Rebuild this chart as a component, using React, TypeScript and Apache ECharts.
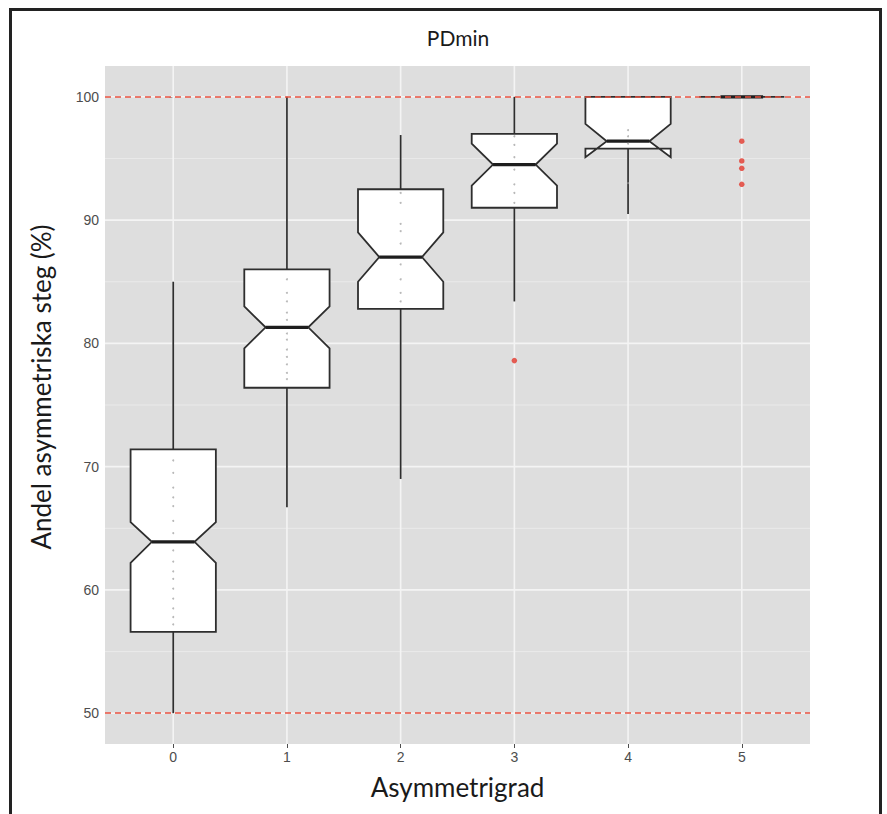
import React, { useEffect, useRef } from "react";
import * as echarts from "echarts";

// ---- data ----
const categories = ["0", "1", "2", "3", "4", "5"];
const whiskerLow = [50.0, 66.7, 69.0, 83.4, 90.5, 100];
const q1 = [56.6, 76.4, 82.8, 91.0, 95.8, 100];
const notchLow = [62.2, 79.6, 85.0, 92.8, 95.1, 100];
const median = [63.9, 81.3, 87.0, 94.5, 96.4, 100];
const notchHigh = [65.5, 83.0, 89.0, 96.2, 97.8, 100];
const q3 = [71.4, 86.0, 92.5, 97.0, 100, 100];
const whiskerHigh = [85.0, 100, 96.9, 100, 100, 100];

const outliers: [number, number][] = [
  [3, 78.6],
  [5, 96.4],
  [5, 94.8],
  [5, 94.2],
  [5, 92.9],
];

const jitter0 = [70.5, 69.5, 68.3, 67.5, 66.8, 65.6, 64.6, 63.2, 62.3, 61.5, 60.9, 60.1, 59.3, 58.5, 57.8, 57.2];
const jitter1 = [85.2, 84.1, 83.4, 82.5, 81.9, 80.8, 80.3, 79.5, 78.9, 78.3, 77.6, 77.1];
const jitter2 = [92.2, 91.4, 89.7, 89.1, 88.1, 86.4, 85.2, 84.1, 83.4];
const jitter3 = [96.8, 96.1, 95.1, 94.1, 92.9, 92.2, 91.4];
const jitter4 = [97.3, 96.8, 96.2, 93.0];
const jitterSets = [jitter0, jitter1, jitter2, jitter3, jitter4];

const yTicks = [50, 60, 70, 80, 90, 100];
const yMinorTicks = [55, 65, 75, 85, 95];
const refLines = [50, 100];

const X_MIN = -0.6;
const X_MAX = 5.6;
const Y_MIN = 47.5;
const Y_MAX = 102.5;

export default function App() {
  const ref = useRef<HTMLDivElement>(null);

  useEffect(() => {
    if (!ref.current) return;
    const chart = echarts.init(ref.current, null, { renderer: "svg" });

    const boxData = categories.map((_, i) => [
      i,
      whiskerLow[i],
      q1[i],
      notchLow[i],
      median[i],
      notchHigh[i],
      q3[i],
      whiskerHigh[i],
    ]);

    const gridData: any[] = [
      ...yTicks.map((v) => ["h", v, 1]),
      ...yMinorTicks.map((v) => ["h", v, 0]),
      ...categories.map((_, i) => ["v", i, 1]),
    ];

    const jitterData: [number, number][] = [];
    jitterSets.forEach((arr, i) => arr.forEach((v) => jitterData.push([i, v])));

    const option: any = {
      animation: false,
      backgroundColor: "#ffffff",
      title: {
        text: "PDmin",
        left: 458,
        top: 27,
        textAlign: "center",
        padding: 0,
        textStyle: {
          fontFamily: "Lato",
          fontSize: 21,
          fontWeight: "normal",
          color: "#1a1a1a",
        },
      },
      grid: {
        left: 105,
        right: 77,
        top: 66,
        bottom: 70,
        show: true,
        backgroundColor: "#DEDEDE",
        borderWidth: 0,
      },
      xAxis: {
        type: "value",
        min: X_MIN,
        max: X_MAX,
        name: "Asymmetrigrad",
        nameLocation: "middle",
        nameGap: 30,
        nameTextStyle: { fontFamily: "Lato", fontSize: 26, color: "#1a1a1a" },
        axisLine: { show: false },
        splitLine: { show: false },
        axisTick: {
          show: true,
          length: 4,
          customValues: categories.map((_, i) => i),
          lineStyle: { color: "#4d4d4d", width: 1 },
        },
        axisLabel: {
          customValues: categories.map((_, i) => i),
          formatter: (v: number) => categories[Math.round(v)] ?? "",
          margin: 6,
          fontFamily: "Liberation Sans",
          fontSize: 14,
          color: "#4d4d4d",
        },
      },
      yAxis: {
        type: "value",
        min: Y_MIN,
        max: Y_MAX,
        name: "Andel asymmetriska steg (%)",
        nameLocation: "middle",
        nameGap: 51,
        nameTextStyle: {
          fontFamily: "Lato",
          fontSize: 26,
          color: "#1a1a1a",
          padding: [0, 0, 0, 36],
        },
        axisLine: { show: false },
        splitLine: { show: false },
        axisTick: {
          show: true,
          length: 4,
          customValues: yTicks,
          lineStyle: { color: "#4d4d4d", width: 1 },
        },
        axisLabel: {
          customValues: yTicks,
          margin: 6,
          fontFamily: "Liberation Sans",
          fontSize: 14,
          color: "#4d4d4d",
        },
      },
      graphic: [
        {
          type: "rect",
          silent: true,
          shape: { x: 10.5, y: 9.5, width: 870, height: 840 },
          style: { fill: "none", stroke: "#222222", lineWidth: 3 },
          z: 100,
        },
      ],
      series: [
        {
          type: "custom",
          name: "grid",
          silent: true,
          z: 1,
          data: gridData,
          encode: { x: 1, y: 1 },
          renderItem: (params: any, api: any) => {
            const kind = gridData[params.dataIndex][0];
            const v = api.value(1);
            const major = api.value(2) === 1;
            let a, b;
            if (kind === "h") {
              a = api.coord([X_MIN, v]);
              b = api.coord([X_MAX, v]);
            } else {
              a = api.coord([v, Y_MIN]);
              b = api.coord([v, Y_MAX]);
            }
            return {
              type: "line",
              shape: { x1: a[0], y1: a[1], x2: b[0], y2: b[1] },
              style: {
                stroke: major ? "#F4F4F4" : "#EAEAEA",
                lineWidth: major ? 1.6 : 1,
              },
            };
          },
        },
        {
          type: "custom",
          name: "boxes",
          z: 2,
          data: boxData,
          encode: { x: 0, y: [1, 2, 3, 4, 5, 6, 7] },
          renderItem: (params: any, api: any) => {
            const x = api.value(0);
            const wl = api.value(1);
            const lq = api.value(2);
            const nl = api.value(3);
            const md = api.value(4);
            const nu = api.value(5);
            const uq = api.value(6);
            const wh = api.value(7);
            const half = 0.375;
            const ind = half * 0.5;
            const xmin = x - half;
            const xmax = x + half;
            const p = (xx: number, yy: number) => api.coord([xx, yy]);
            const stroke = "#2e2e2e";
            const w1 = p(x, uq);
            const w2 = p(x, wh);
            const w3 = p(x, lq);
            const w4 = p(x, wl);
            const m1 = p(xmin + ind, md);
            const m2 = p(xmax - ind, md);
            return {
              type: "group",
              children: [
                {
                  type: "line",
                  shape: { x1: w1[0], y1: w1[1], x2: w2[0], y2: w2[1] },
                  style: { stroke, lineWidth: 1.7 },
                },
                {
                  type: "line",
                  shape: { x1: w3[0], y1: w3[1], x2: w4[0], y2: w4[1] },
                  style: { stroke, lineWidth: 1.7 },
                },
                {
                  type: "polygon",
                  shape: {
                    points: [
                      p(xmin, uq),
                      p(xmin, nu),
                      p(xmin + ind, md),
                      p(xmin, nl),
                      p(xmin, lq),
                      p(xmax, lq),
                      p(xmax, nl),
                      p(xmax - ind, md),
                      p(xmax, nu),
                      p(xmax, uq),
                    ],
                  },
                  style: { fill: "#ffffff", stroke, lineWidth: 1.8, lineJoin: "miter" },
                },
                {
                  type: "line",
                  shape: { x1: m1[0], y1: m1[1], x2: m2[0], y2: m2[1] },
                  style: { stroke: "#1e1e1e", lineWidth: 3.2 },
                },
              ],
            };
          },
        },
        {
          type: "scatter",
          name: "points",
          z: 3,
          silent: true,
          symbol: "circle",
          symbolSize: 2,
          itemStyle: { color: "#9a9a9a", opacity: 0.7 },
          data: jitterData,
        },
        {
          type: "scatter",
          name: "outliers",
          z: 4,
          silent: true,
          symbol: "circle",
          symbolSize: 5.5,
          itemStyle: { color: "#E2372C" },
          data: outliers,
          markLine: {
            silent: true,
            symbol: ["none", "none"],
            label: { show: false },
            lineStyle: { color: "#E8503F", type: [6, 4], width: 1.6 },
            data: refLines.map((v) => ({ yAxis: v })),
          },
        },
      ],
    };

    chart.setOption(option);
    return () => chart.dispose();
  }, []);

  return (
    <div
      ref={ref}
      style={{ position: "fixed", left: 0, top: 0, width: 887, height: 814 }}
    />
  );
}
